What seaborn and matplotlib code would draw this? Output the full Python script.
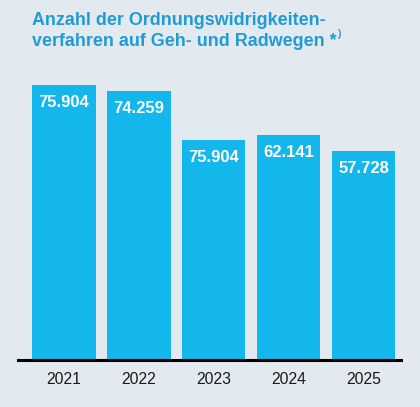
import matplotlib
matplotlib.use("Agg")
import matplotlib.pyplot as plt
import seaborn as sns
import pandas as pd

# data
years = ["2021", "2022", "2023", "2024", "2025"]
counts = [75904, 74259, 60700, 62141, 57728]   # bar heights (2023 bar is shorter than its label says)
bar_labels = ["75.904", "74.259", "75.904", "62.141", "57.728"]
title = "Anzahl der Ordnungswidrigkeiten-\nverfahren auf Geh- und Radwegen *"

bg = "#E3EAEF"
bar_col = "#14B7EB"
title_col = "#1F9BD8"

sns.set_theme(style="white")
plt.rcParams["font.family"] = ["Liberation Sans", "DejaVu Sans"]

df = pd.DataFrame({"year": years, "count": counts})

fig = plt.figure(figsize=(4.2, 4.07), dpi=100)
fig.patch.set_facecolor(bg)
W, H = 420, 407
# axes: x from 18 to 401 px, bottom at 360 px, top at 60 px
ax = fig.add_axes([18 / W, (H - 360) / H, (401 - 18) / W, 300 / H])
ax.set_facecolor(bg)

sns.barplot(data=df, x="year", y="count", color=bar_col, width=0.853,
            saturation=1, linewidth=0, ax=ax)

ax.set_xlim(-0.607, 4.5)
ax.set_ylim(0, 300 * 276)
ax.set_xlabel("")
ax.set_ylabel("")
ax.set_yticks([])
for s in ["top", "right", "left"]:
    ax.spines[s].set_visible(False)
ax.spines["bottom"].set_color("black")
ax.spines["bottom"].set_linewidth(2.2)
ax.spines["bottom"].set_zorder(5)
ax.tick_params(axis="x", length=0, pad=9, labelsize=11.3, labelcolor="#1a1a1a")

for i, (v, lab) in enumerate(zip(counts, bar_labels)):
    ax.annotate(lab, (i, v), xytext=(0, -12.6), textcoords="offset points",
                ha="center", va="center", color="white", fontsize=12,
                fontweight="bold")

t = fig.text(32 / W, 1 - 12 / H, title, ha="left", va="top", color=title_col,
             fontsize=12.9, fontweight="bold", linespacing=1.32)
fig.canvas.draw()
bb = t.get_window_extent()
fig.text(bb.x1 / W + 0.001, bb.y0 / H + 0.027, ")", ha="left", va="bottom",
         color=title_col, fontsize=7.5, fontweight="bold")

fig.savefig("out.png", dpi=100, facecolor=bg)
